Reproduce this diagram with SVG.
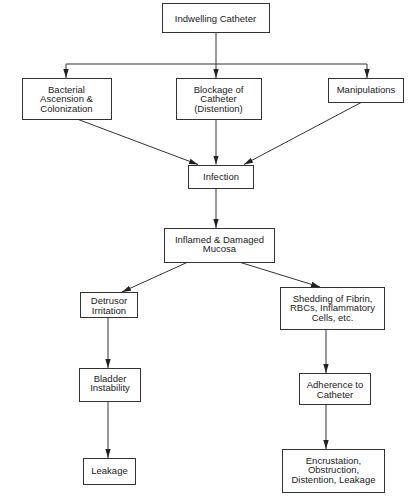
<svg xmlns="http://www.w3.org/2000/svg" width="408" height="500" viewBox="0 0 408 500">
<style>
rect{fill:#fff;stroke:#333;stroke-width:1}
text{font-family:"Liberation Sans",Arial,sans-serif;font-size:9.5px;fill:#222;text-anchor:middle}
.c{stroke:#333;stroke-width:1;fill:none}
.a{marker-end:url(#ah)}
</style>
<defs>
<marker id="ah" markerUnits="userSpaceOnUse" viewBox="0 0 10 6" refX="10" refY="3" markerWidth="9" markerHeight="5.4" orient="auto">
<path d="M0,0 L10,3 L0,6 Z" fill="#222"/>
</marker>
</defs>
<rect x="0" y="0" width="408" height="500" style="fill:#fff;stroke:none"/>
<g id="connectors">
<path class="c" d="M216,32 V64 M66,64 H367"/>
<path class="c a" d="M66,64 V78"/>
<path class="c a" d="M216,64 V78"/>
<path class="c a" d="M367,64 V78"/>
<path class="c a" d="M77,119 L198,164.5"/>
<path class="c a" d="M216,119 V164.5"/>
<path class="c a" d="M362,102 L244,164.5"/>
<path class="c a" d="M216,188 V228"/>
<path class="c a" d="M188,262 L122,292"/>
<path class="c a" d="M239,262 L320,287"/>
<path class="c a" d="M108,317 V368"/>
<path class="c a" d="M108,401 V458"/>
<path class="c a" d="M326,329 V373"/>
<path class="c a" d="M326,404 V449"/>
</g>
<g id="indwelling"><rect x="162.5" y="3.5" width="107" height="29"/><text x="215.5" y="21.5">Indwelling Catheter</text></g>
<g id="bacterial"><rect x="22.5" y="78.5" width="89" height="41"/><text x="66.5" y="92.5">Bacterial</text><text x="66.5" y="102">Ascension &amp;</text><text x="66.5" y="111.5">Colonization</text></g>
<g id="blockage"><rect x="176.5" y="78.5" width="85" height="41"/><text x="218.5" y="92.5">Blockage of</text><text x="218.5" y="102">Catheter</text><text x="218.5" y="111.5">(Distention)</text></g>
<g id="manipulations"><rect x="328.5" y="78.5" width="75" height="24"/><text x="366" y="92.5">Manipulations</text></g>
<g id="infection"><rect x="188.5" y="165.5" width="65" height="23"/><text x="221" y="179.5">Infection</text></g>
<g id="inflamed"><rect x="164.5" y="228.5" width="110" height="34"/><text x="219.5" y="242.5">Inflamed &amp; Damaged</text><text x="219.5" y="252">Mucosa</text></g>
<g id="detrusor"><rect x="80.5" y="292.5" width="57" height="25"/><text x="109" y="304.25">Detrusor</text><text x="109" y="313.75">Irritation</text></g>
<g id="shedding"><rect x="280.5" y="287.5" width="104" height="42"/><text x="332.5" y="301.5">Shedding of Fibrin,</text><text x="332.5" y="311">RBCs, Inflammatory</text><text x="332.5" y="320.5">Cells, etc.</text></g>
<g id="bladder"><rect x="79.5" y="368.5" width="61" height="33"/><text x="110" y="381.5">Bladder</text><text x="110" y="391">Instability</text></g>
<g id="adherence"><rect x="299.5" y="373.5" width="71" height="31"/><text x="335" y="388.25">Adherence to</text><text x="335" y="397.75">Catheter</text></g>
<g id="leakage"><rect x="83.5" y="458.5" width="52" height="26"/><text x="109.5" y="473.5">Leakage</text></g>
<g id="encrustation"><rect x="282.5" y="449.5" width="102" height="43"/><text x="333.5" y="463.5">Encrustation,</text><text x="333.5" y="473">Obstruction,</text><text x="333.5" y="482.5">Distention, Leakage</text></g>
</svg>
